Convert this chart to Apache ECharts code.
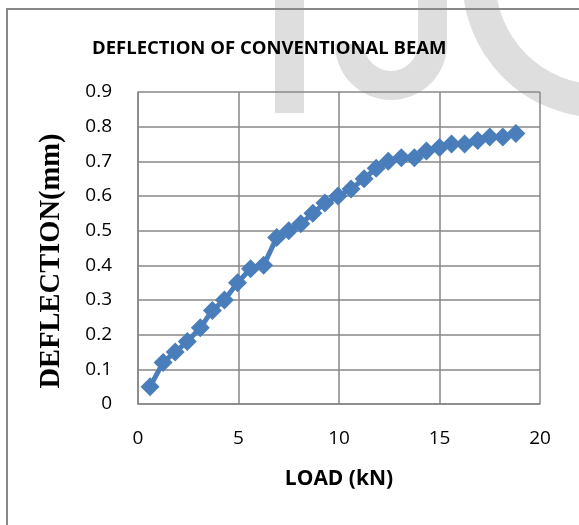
<!DOCTYPE html>
<html>
<head>
<meta charset="utf-8">
<script src="https://cdn.jsdelivr.net/npm/echarts@6/dist/echarts.min.js"></script>
<style>
  html, body { margin: 0; padding: 0; background: #fff; }
  #chart { width: 579px; height: 525px; }
</style>
</head>
<body>
<div id="chart"></div>
<script>
// load in kN
const loads = [0.6, 1.25, 1.85, 2.45, 3.1, 3.7, 4.3, 4.95, 5.6, 6.25, 6.9, 7.5, 8.1, 8.7, 9.3,
  9.95, 10.6, 11.25, 11.85, 12.45, 13.1, 13.75, 14.35, 15, 15.6, 16.25, 16.9, 17.5, 18.15, 18.8]
// deflection in mm
const deflections = [0.05, 0.12, 0.15, 0.18, 0.22, 0.27, 0.30, 0.35, 0.39, 0.40, 0.48, 0.50, 0.52, 0.55, 0.58,
  0.60, 0.62, 0.65, 0.68, 0.70, 0.71, 0.71, 0.73, 0.74, 0.75, 0.75, 0.76, 0.77, 0.77, 0.78]
const xTicks = [0, 5, 10, 15, 20]
const yTicks = [0, 0.1, 0.2, 0.3, 0.4, 0.5, 0.6, 0.7, 0.8, 0.9]

const chart = echarts.init(document.getElementById('chart'))
const gridColor = '#878787'
const markColor = '#4a7ebb'
const wmColor = '#dedede'

chart.setOption({
  animation: false,
  backgroundColor: '#fff',
  title: {
    text: 'DEFLECTION OF CONVENTIONAL BEAM',
    left: 87,
    top: 34,
    textStyle: { fontFamily: 'Open Sans', fontWeight: 'bold', fontSize: 18.5, color: '#000' }
  },
  graphic: [
    // faint watermark behind the plot
    { type: 'rect', z: -10, shape: { x: 275, y: 0, width: 29, height: 113 }, style: { fill: wmColor } },
    { type: 'rect', z: -10, shape: { x: 418, y: 0, width: 29, height: 44 }, style: { fill: wmColor } },
    {
      type: 'sector', z: -10,
      shape: { cx: 391, cy: 44, r0: 27, r: 56, startAngle: 0, endAngle: Math.PI },
      style: { fill: wmColor }
    },
    {
      type: 'arc', z: -10,
      shape: { cx: 600, cy: -20, r: 121, startAngle: Math.PI / 2, endAngle: Math.PI },
      style: { stroke: wmColor, lineWidth: 33, fill: null }
    },
    // chart frame
    {
      type: 'rect', z: 100,
      shape: { x: 7, y: 9, width: 700, height: 700 },
      style: { fill: null, stroke: '#888', lineWidth: 2 }
    }
  ],
  grid: { left: 138, right: 39, top: 92, bottom: 121 },
  xAxis: {
    type: 'value',
    min: 0,
    max: 20,
    interval: 5,
    name: 'LOAD (kN)',
    nameLocation: 'middle',
    nameGap: 65,
    nameTextStyle: { fontFamily: 'Open Sans', fontWeight: 'bold', fontSize: 21, color: '#000' },
    axisLine: { show: true, lineStyle: { color: gridColor, width: 1.5 } },
    axisTick: { show: false },
    splitLine: { show: true, lineStyle: { color: gridColor, width: 1.5 } },
    axisLabel: {
      margin: 25,
      fontFamily: 'Open Sans',
      fontSize: 19,
      color: '#000',
      formatter: v => (xTicks.includes(v) ? String(v) : '')
    }
  },
  yAxis: {
    type: 'value',
    min: 0,
    max: 0.9,
    interval: 0.1,
    name: 'DEFLECTION(mm)',
    nameLocation: 'middle',
    nameGap: 72,
    nameTextStyle: {
      fontFamily: 'Liberation Serif', fontWeight: 'bold', fontSize: 28.5, color: '#000',
      padding: [0, 26, 0, 0]
    },
    axisLine: { show: true, lineStyle: { color: gridColor, width: 1.5 } },
    axisTick: { show: false },
    splitLine: { show: true, lineStyle: { color: gridColor, width: 1.5 } },
    axisLabel: {
      margin: 26,
      fontFamily: 'Open Sans',
      fontSize: 19,
      color: '#000',
      formatter: v => {
        const t = yTicks.find(y => Math.abs(y - v) < 1e-6)
        return t === undefined ? '' : String(t)
      }
    }
  },
  series: [
    {
      type: 'line',
      data: loads.map((x, i) => [x, deflections[i]]),
      symbol: 'diamond',
      symbolSize: 19,
      lineStyle: { color: markColor, width: 5 },
      itemStyle: { color: markColor }
    }
  ]
})
</script>
</body>
</html>
